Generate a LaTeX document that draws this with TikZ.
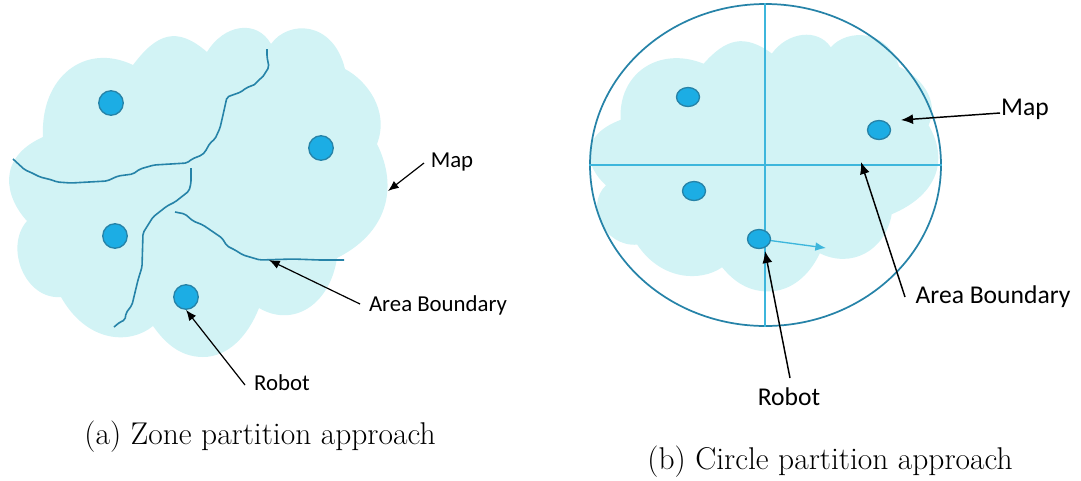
\documentclass[tikz,border=0pt]{standalone}
\usepackage{xcolor}
\usepackage{fontspec}
\setsansfont{Carlito}
\usetikzlibrary{arrows.meta,positioning,shapes.geometric}
\definecolor{mapcyan}{HTML}{D2F3F5}
\definecolor{robotblue}{HTML}{1CADE4}
\definecolor{edgeblue}{HTML}{2683A8}
\definecolor{gridblue}{HTML}{3DB6DC}
\newcommand{\mapcloud}{
  (133,65) .. controls (157,33) and (177,26) .. (207,52)
  .. controls (224,24) and (257,19) .. (271,44)
  .. controls (288,20) and (333,20) .. (345,69)
  .. controls (366,80) and (390,110) .. (377,144)
  .. controls (399,188) and (387,233) .. (337,258)
  .. controls (330,305) and (293,328) .. (259,308)
  .. controls (248,336) and (228,357) .. (203,357)
  .. controls (178,357) and (163,340) .. (153,326)
  .. controls (130,345) and (87,343) .. (61,297)
  .. controls (25,300) and (4,247) .. (27,221)
  .. controls (5,197) and (-4,158) .. (43,137)
  .. controls (40,77) and (85,42) .. (133,65) -- cycle}
\begin{document}
\begin{tikzpicture}[x=0.75pt,y=-0.75pt,
  map/.style={fill=mapcyan,draw=none},
  robot/.style={circle,fill=robotblue,draw=edgeblue,line width=1pt,
    minimum size=24.5*0.75pt,inner sep=0pt},
  robotb/.style={ellipse,fill=robotblue,draw=edgeblue,line width=1pt,
    minimum width=23*0.75pt,minimum height=19*0.75pt,inner sep=0pt},
  border/.style={edgeblue,line width=1.2pt,line join=round,rounded corners=1.5pt},
  grid/.style={gridblue,line width=0.85pt},
  note/.style={font=\sffamily\fontsize{17.1}{20}\selectfont,inner sep=0pt},
  noteb/.style={font=\sffamily\fontsize{19.2}{22}\selectfont,inner sep=0pt},
  caption/.style={font=\fontsize{23.6}{28}\selectfont,inner sep=0pt},
  arrow/.style={-{Latex[length=8pt,width=6.5pt]},line width=0.9pt,black},
  arrowb/.style={-{Latex[length=9pt,width=7.5pt]},line width=1.1pt,black}]
\useasboundingbox (0,0) rectangle (1081,480);
\fill[map] \mapcloud;
\begin{scope}[shift={(581,13)},xscale=0.922,yscale=0.78]
\fill[map] \mapcloud;
\end{scope}
\draw[border] (13,159) -- (25,170) -- (30,172) -- (40,177) -- (52,180) -- (57,182) -- (71,183) -- (107,181)
  -- (118,176) -- (133,174) -- (140,169) -- (154,165) -- (187,163) -- (192,159) -- (202,155) -- (205,152)
  -- (210,143) -- (215,139) -- (220,128) -- (223,115) -- (227,97) -- (241,92) -- (246,88) -- (256,84)
  -- (258,80) -- (262,78) -- (269,67) -- (267,57) -- (267,49);
\draw[border] (191,168) -- (191,183) -- (189,191) -- (175,202) -- (167,206) -- (153,217) -- (143,233)
  -- (142,267) -- (138,280) -- (132,305) -- (126,313) -- (125,320) -- (120,322) -- (114,327);
\draw[border] (175,212) -- (185,214) -- (193,221) -- (203,225) -- (222,238) -- (227,246) -- (235,250)
  -- (243,255) -- (260,260) -- (293,259) -- (320,260) -- (344,260);
\node[robot] (r1) at (111,103) {};
\node[robot] (r2) at (321,148) {};
\node[robot] (r3) at (115,236) {};
\node[robot] (r4) at (186,297) {};
\node[note] (maplbl) at (452,162) {Map};
\node[note] (arealbl) at (438,305) {Area Boundary};
\node[note] (robotlbl) at (282,383) {Robot};
\coordinate (mapedge) at (388,191);
\coordinate (mapstart) at (424,163);
\coordinate (areatip) at (269,260);
\coordinate (areastart) at (360,304);
\coordinate (robotstart) at (245,385);
\draw[arrow] (mapstart) -- (mapedge);
\draw[arrow] (areastart) -- (areatip);
\draw[arrow] (robotstart) -- (r4.south);
\node[caption] (capa) at (260,437) {(a) Zone partition approach};
\node[ellipse,draw=edgeblue,line width=1.3pt,minimum width=351*0.75pt,minimum height=322*0.75pt,inner sep=0pt]
  (disk) at (765.5,165) {};
\draw[grid] ([xshift=-0.4pt]disk.north) -- ([xshift=-0.4pt]disk.south);
\draw[grid,line width=1.2pt] (disk.west) -- (disk.east);
\node[robotb] (s1) at (688,97) {};
\node[robotb] (s2) at (879,130) {};
\node[robotb] (s3) at (694,191) {};
\node[robotb] (s4) at (759,239) {};
\node[noteb] (mapnote) at (1025,109) {Map};
\node[noteb] (areanote) at (993,297) {Area Boundary};
\node[noteb] (robotnote) at (789,397) {Robot};
\coordinate (maptip) at (901,120);
\coordinate (mapfrom) at (1000,113);
\coordinate (gridtip) at (861,162);
\coordinate (gridfrom) at (905,297);
\coordinate (robotfrom) at (790,378);
\coordinate (robottip) at (765,251);
\coordinate (headto) at (826,248);
\draw[arrowb] (mapfrom) -- (maptip);
\draw[arrowb] (gridfrom) -- (gridtip);
\draw[arrowb] (robotfrom) -- (robottip);
\draw[-{Latex[length=8pt,width=6.5pt]},gridblue,line width=1pt] (s4) -- (headto);
\node[caption] (capb) at (830,462) {(b) Circle partition approach};
\end{tikzpicture}
\end{document}
